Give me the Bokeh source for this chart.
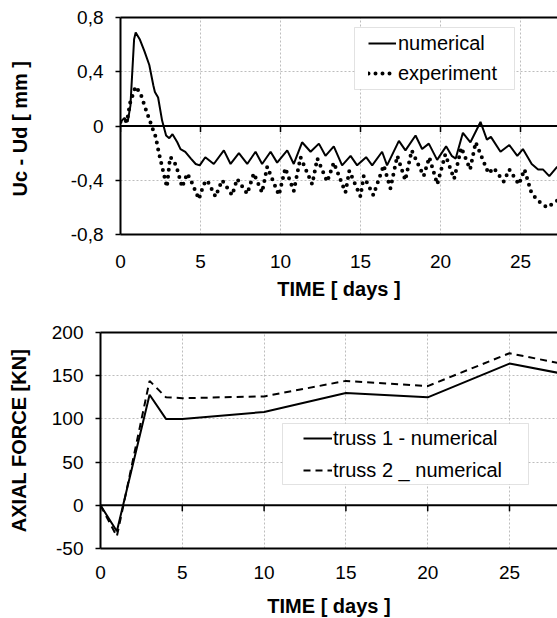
from bokeh.plotting import figure
from bokeh.models import (Range1d, LinearAxis, FixedTicker, Span, Legend,
                          LegendItem, BoxAnnotation)
from bokeh.embed import file_html
from bokeh.resources import INLINE

# ---------------- data: top chart (Uc - Ud) ----------------
num_days = [0, 0.25, 0.45, 0.62, 0.85, 0.95, 1.2, 1.5, 1.8, 2.05,
            2.15, 2.35, 2.6, 2.85, 3.05, 3.25, 3.55, 3.75, 4.05, 4.4,
            4.7, 4.95, 5.3, 5.83, 6.46, 6.88, 7.4, 7.92, 8.44, 8.85,
            9.38, 9.79, 10.42, 10.83, 11.35, 11.88, 12.4, 12.81, 13.33, 13.85,
            14.38, 14.79, 15.35, 15.73, 16.35, 16.66, 17.4, 17.81, 18.44, 18.85,
            19.27, 19.79, 20.35, 20.7, 20.95, 21.4, 21.87, 22.5, 22.9, 23.15,
            23.75, 24.3, 24.8, 25.15, 25.7, 26.1, 26.4, 26.8, 27.3]
num_vals = [0.03, 0.06, 0.03, 0.15, 0.64, 0.69, 0.64, 0.55, 0.45, 0.30,
            0.25, 0.21, 0.04, -0.07, -0.09, -0.06, -0.12, -0.17, -0.19, -0.24,
            -0.28, -0.29, -0.23, -0.28, -0.18, -0.28, -0.20, -0.28, -0.19, -0.28,
            -0.19, -0.27, -0.18, -0.28, -0.12, -0.19, -0.13, -0.22, -0.15, -0.29,
            -0.22, -0.29, -0.23, -0.29, -0.19, -0.29, -0.11, -0.18, -0.07, -0.17,
            -0.13, -0.25, -0.15, -0.22, -0.24, -0.05, -0.12, 0.03, -0.10, -0.08,
            -0.19, -0.14, -0.22, -0.17, -0.28, -0.32, -0.32, -0.37, -0.30]

exp_days = [0, 0.2, 0.4, 0.6, 0.94, 1.25, 1.56, 1.98, 2.2, 2.4,
            2.6, 2.9, 3.1, 3.3, 3.5, 3.85, 4.17, 4.4, 4.9, 5.2,
            5.42, 5.94, 6.35, 6.98, 7.29, 7.92, 8.33, 8.85, 9.17, 9.9,
            10.3, 10.83, 11.25, 11.98, 12.3, 12.92, 13.33, 14.06, 14.3, 15.0,
            15.2, 15.8, 16.45, 16.87, 17.3, 17.8, 18.2, 18.95, 19.3, 19.8,
            20.3, 20.85, 21.3, 21.85, 22.2, 23.0, 23.33, 23.95, 24.3, 24.9,
            25.25, 25.7, 26.2, 26.66, 27.3]
exp_vals = [0.03, 0.05, 0.03, 0.17, 0.29, 0.24, 0.13, -0.01, -0.08, -0.20,
            -0.30, -0.45, -0.23, -0.25, -0.30, -0.45, -0.35, -0.40, -0.54, -0.43,
            -0.40, -0.52, -0.40, -0.51, -0.39, -0.50, -0.35, -0.49, -0.30, -0.51,
            -0.31, -0.48, -0.23, -0.43, -0.24, -0.41, -0.27, -0.49, -0.33, -0.52,
            -0.37, -0.51, -0.29, -0.46, -0.22, -0.40, -0.18, -0.37, -0.23, -0.43,
            -0.21, -0.39, -0.16, -0.32, -0.12, -0.35, -0.31, -0.41, -0.32, -0.43,
            -0.32, -0.50, -0.56, -0.60, -0.55]

top_xticks = [0, 5, 10, 15, 20, 25]
top_yticks = [-0.8, -0.4, 0, 0.4, 0.8]
top_ylabels = ["-0,8", "-0,4", "0", "0,4", "0,8"]

# ---------------- data: bottom chart (axial force) ----------------
force_days = [0, 1, 3, 4, 5, 10, 15, 20, 25, 30]
truss1 = [0, -30, 128, 100, 100, 108, 130, 125, 164, 146]
truss2 = [0, -36, 144, 125, 124, 126, 144, 138, 176, 157]

bot_xticks = [0, 5, 10, 15, 20, 25]
bot_yticks = [-50, 0, 50, 100, 150, 200]
bot_ylabels = ["-50", "0", "50", "100", "150", "200"]

FONT = "Liberation Sans"
GRID = "#bdbdbd"


def make_fig(x_end, yr, frame_w, frame_h, left, top, bottom,
             xticks, yticks, ylabels, ytitle, xtitle,
             lab_standoff, title_standoff, ytitle_standoff):
    p = figure(frame_width=frame_w, frame_height=frame_h,
               min_border_left=left, min_border_right=0,
               min_border_top=top, min_border_bottom=bottom,
               x_range=Range1d(0, x_end), y_range=Range1d(*yr),
               output_backend="svg", toolbar_location=None)
    p.outline_line_color = None
    p.background_fill_color = "white"
    p.border_fill_color = "white"

    xa = p.xaxis[0]
    xa.ticker = FixedTicker(ticks=xticks)
    xa.axis_line_color = "black"
    xa.axis_line_width = 2
    xa.major_tick_line_color = None
    xa.minor_tick_line_color = None
    xa.major_label_standoff = lab_standoff
    xa.major_label_text_font = FONT
    xa.major_label_text_font_size = "19px"
    xa.major_label_text_color = "black"
    xa.axis_label = xtitle
    xa.axis_label_text_font = FONT
    xa.axis_label_text_font_size = "20px"
    xa.axis_label_text_font_style = "bold"
    xa.axis_label_text_color = "black"
    xa.axis_label_standoff = title_standoff

    ya = p.yaxis[0]
    ya.ticker = FixedTicker(ticks=yticks)
    ya.major_label_overrides = dict(zip(yticks, ylabels))
    ya.axis_line_color = "black"
    ya.axis_line_width = 2
    ya.major_tick_line_color = "black"
    ya.major_tick_line_width = 1.5
    ya.major_tick_out = 5
    ya.major_tick_in = 0
    ya.minor_tick_line_color = None
    ya.major_label_standoff = 12
    ya.major_label_text_font = FONT
    ya.major_label_text_font_size = "19px"
    ya.major_label_text_color = "black"
    ya.axis_label = ytitle
    ya.axis_label_text_font = FONT
    ya.axis_label_text_font_size = "20px"
    ya.axis_label_text_font_style = "bold"
    ya.axis_label_text_color = "black"
    ya.axis_label_standoff = ytitle_standoff

    # top border drawn as an axis line
    ta = LinearAxis(ticker=FixedTicker(ticks=[]), axis_line_color="black",
                    axis_line_width=2, major_tick_line_color=None,
                    minor_tick_line_color=None, major_label_standoff=0,
                    major_label_text_font_size="0px")
    p.add_layout(ta, "above")

    p.xgrid[0].grid_line_color = GRID
    p.xgrid[0].grid_line_dash = "2 2"
    p.ygrid[0].grid_line_color = GRID
    p.ygrid[0].grid_line_dash = "2 2"

    p.add_layout(Span(location=0, dimension="width", line_color="black",
                      line_width=2))
    tick_len = 6 * (yr[1] - yr[0]) / frame_h
    p.segment(x0=xticks, y0=[0] * len(xticks), x1=xticks,
              y1=[-tick_len] * len(xticks), line_color="black", line_width=1.5)
    return p


def px_x(px, left, w, xend):
    return (px - left) / w * xend


def px_y(py, top, h, yr):
    return yr[1] - (py - top) / h * (yr[1] - yr[0])


# ---------- top ----------
T_LEFT, T_TOP, T_W, T_H = 120, 17, 437, 217
T_YR = (-0.8, 0.8)
t_xend = T_W / 16.0
p1 = make_fig(t_xend, T_YR, T_W, T_H, T_LEFT, T_TOP, 67,
              top_xticks, top_yticks, top_ylabels, "Uc - Ud  [ mm ]",
              "TIME [ days ]", 14, 7, 37)
r_num = p1.line(num_days, num_vals, line_color="black", line_width=2)
r_exp = p1.line(exp_days, exp_vals, line_color="black", line_width=4,
                line_dash="0 7", line_cap="round")

p1.add_layout(BoxAnnotation(
    left=px_x(354, T_LEFT, T_W, t_xend), right=px_x(514, T_LEFT, T_W, t_xend),
    top=px_y(27, T_TOP, T_H, T_YR), bottom=px_y(89, T_TOP, T_H, T_YR),
    fill_color="white", fill_alpha=1, line_color="#a0a0a0", line_width=1))
leg1 = Legend(items=[LegendItem(label="numerical", renderers=[r_num]),
                     LegendItem(label="experiment", renderers=[r_exp])],
              location=(368 - T_LEFT, T_TOP + T_H - 85), padding=0, spacing=6,
              margin=0, glyph_width=28, glyph_height=24, label_height=24,
              label_standoff=2, label_text_font=FONT,
              label_text_font_size="20px", label_text_color="black",
              border_line_color=None, background_fill_alpha=0)
p1.add_layout(leg1)

# ---------- bottom ----------
B_LEFT, B_TOP, B_W, B_H = 100, 332, 457, 216
B_YR = (-50, 200)
b_xend = B_W / 16.36
P1_H = 17 + 217 + 67 + 1
p2 = make_fig(b_xend, B_YR, B_W, B_H, B_LEFT, B_TOP - P1_H, 68,
              bot_xticks, bot_yticks, bot_ylabels, "AXIAL FORCE [KN]",
              "TIME [ days ]", 11, 13, 19)
r_t1 = p2.line(force_days, truss1, line_color="black", line_width=2)
r_t2 = p2.line(force_days, truss2, line_color="black", line_width=2,
               line_dash="7 5")
p2.add_layout(BoxAnnotation(
    left=px_x(282, B_LEFT, B_W, b_xend), right=px_x(528, B_LEFT, B_W, b_xend),
    top=px_y(423, B_TOP, B_H, B_YR), bottom=px_y(484, B_TOP, B_H, B_YR),
    fill_color="white", fill_alpha=1, line_color="#a0a0a0", line_width=1))
leg2 = Legend(items=[LegendItem(label="truss 1 - numerical", renderers=[r_t1]),
                     LegendItem(label="truss 2 _ numerical", renderers=[r_t2])],
              location=(303 - B_LEFT, B_TOP + B_H - 482), padding=0, spacing=8,
              margin=0, glyph_width=29, glyph_height=24, label_height=24,
              label_standoff=1, label_text_font=FONT,
              label_text_font_size="20px", label_text_color="black",
              border_line_color=None, background_fill_alpha=0)
p2.add_layout(leg2)

open("out.html", "w").write(file_html([p1, p2], INLINE))
